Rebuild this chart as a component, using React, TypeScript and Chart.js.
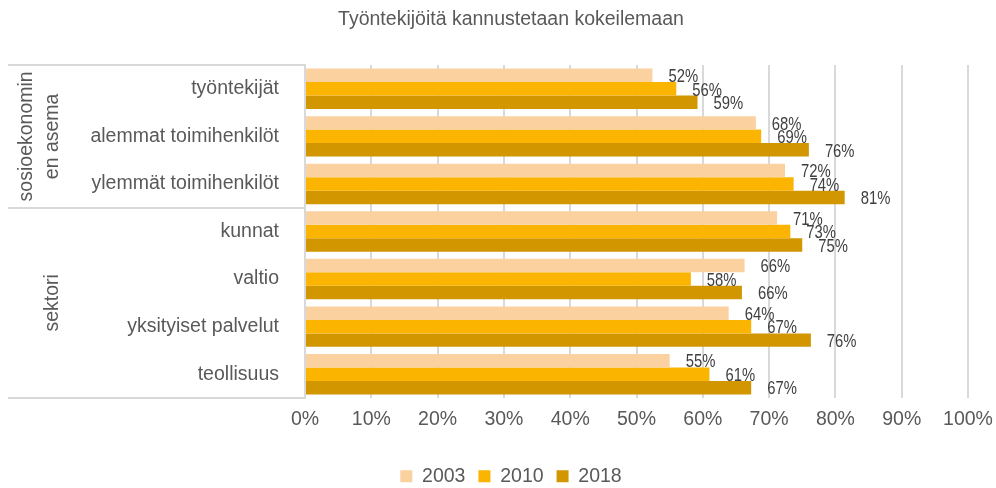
import { useEffect, useRef } from "react";
import { Chart, registerables } from "chart.js";

Chart.register(...registerables);

const chartTitle = "Työntekijöitä kannustetaan kokeilemaan";
const categories = [
  "työntekijät",
  "alemmat toimihenkilöt",
  "ylemmät toimihenkilöt",
  "kunnat",
  "valtio",
  "yksityiset palvelut",
  "teollisuus",
];
const groupLabels = [["sosioekonomin", "en asema"], ["sektori"]];
const groupSizes = [3, 4];
const seriesNames = ["2003", "2010", "2018"];
const values2003 = [52.4, 68.0, 72.4, 71.2, 66.3, 63.9, 55.0];
const values2010 = [56.0, 68.8, 73.7, 73.2, 58.2, 67.3, 61.0];
const values2018 = [59.2, 76.0, 81.4, 75.0, 65.9, 76.3, 67.3];
const xMin = 0;
const xMax = 100;
const xStep = 10;

const seriesColors = ["#FAD19F", "#FBB400", "#D19600"];
const FONT = "'Liberation Sans', Arial, sans-serif";
const TEXT = "#595959";
const GRID = "#d9d9d9";

const LEGEND_SHIFT = 8;

const overlayPlugin = {
  id: "overlay",
  afterLayout(chart: any) {
    const lg = chart.legend;
    if (lg) {
      lg.top += LEGEND_SHIFT;
      lg.bottom += LEGEND_SHIFT;
    }
  },
  afterDatasetsDraw(chart: any) {
    const ctx = chart.ctx;
    ctx.save();
    // data labels
    ctx.font = `19px ${FONT}`;
    ctx.fillStyle = "#404040";
    ctx.textBaseline = "middle";
    ctx.textAlign = "left";
    chart.data.datasets.forEach((ds: any, di: number) => {
      const meta = chart.getDatasetMeta(di);
      meta.data.forEach((bar: any, i: number) => {
        const v = ds.data[i];
        const txt = Math.round(v) + "%";
        ctx.save();
        ctx.translate(bar.x + 16, bar.y + 1.5);
        ctx.scale(0.78, 1);
        ctx.fillText(txt, 0, 0);
        ctx.restore();
      });
    });

    // multi-level category axis: separators and group labels
    const yScale = chart.scales.y;
    ctx.strokeStyle = GRID;
    ctx.lineWidth = 2;
    const lineLeft = 8;
    const lineRight = yScale.right;
    let start = 0;
    const drawSep = (idx: number) => {
      const py = Math.round(yScale.getPixelForValue(idx - 0.5));
      ctx.beginPath();
      ctx.moveTo(lineLeft, py);
      ctx.lineTo(lineRight, py);
      ctx.stroke();
    };
    drawSep(0);
    ctx.font = `19.5px ${FONT}`;
    ctx.fillStyle = TEXT;
    ctx.textAlign = "center";
    ctx.textBaseline = "middle";
    groupSizes.forEach((n, gi) => {
      const end = start + n;
      drawSep(end);
      const top = yScale.getPixelForValue(start - 0.5);
      const bottom = yScale.getPixelForValue(end - 0.5);
      const cy = (top + bottom) / 2;
      const lines = groupLabels[gi];
      const lastX = 53;
      const lineGap = 26;
      lines.forEach((line, li) => {
        const lx = lastX - (lines.length - 1 - li) * lineGap;
        ctx.save();
        ctx.translate(lx, cy);
        ctx.rotate(-Math.PI / 2);
        ctx.fillText(line, 0, 0);
        ctx.restore();
      });
      start = end;
    });
    ctx.restore();
  },
};

export default function App() {
  const canvasRef = useRef<HTMLCanvasElement | null>(null);

  useEffect(() => {
    document.body.style.margin = "0";
    const canvas = canvasRef.current;
    if (!canvas) return;
    const seriesValues = [values2003, values2010, values2018];
    const chart = new Chart(canvas, {
      type: "bar",
      data: {
        labels: categories,
        datasets: seriesNames.map((name, i) => ({
          label: name,
          data: seriesValues[i],
          backgroundColor: seriesColors[i],
          borderWidth: 0,
          categoryPercentage: 0.85,
          barPercentage: 1.0,
        })),
      },
      options: {
        indexAxis: "y",
        responsive: false,
        animation: false,
        layout: { padding: { left: 26, right: 0, top: 0, bottom: 0 } },
        plugins: {
          title: {
            display: true,
            text: chartTitle,
            color: TEXT,
            font: { family: FONT, size: 19.5, weight: "normal" },
            padding: { top: 8, bottom: 33.6 },
          },
          legend: {
            position: "bottom",
            labels: {
              boxWidth: 12,
              boxHeight: 12,
              padding: 13,
              color: TEXT,
              font: { family: FONT, size: 19.5 },
            },
          },
          tooltip: { enabled: false },
        },
        scales: {
          x: {
            min: xMin,
            max: xMax,
            ticks: {
              stepSize: xStep,
              color: TEXT,
              font: { family: FONT, size: 19.5 },
              padding: 10,
              callback: (v: any) => v + "%",
            },
            grid: { color: GRID, lineWidth: 2, drawTicks: false },
            border: { display: false },
            afterFit: (scale: any) => {
              scale.height = 47.5;
              scale.paddingRight = 28;
              scale.paddingLeft = 20;
            },
          },
          y: {
            ticks: {
              color: TEXT,
              font: { family: FONT, size: 19.5 },
              padding: 26,
            },
            grid: { display: false, drawTicks: false },
            border: { display: true, color: GRID, width: 2 },
            afterFit: (scale: any) => {
              scale.width = 279;
            },
          },
        },
      },
      plugins: [overlayPlugin],
    } as any);
    return () => chart.destroy();
  }, []);

  return (
    <div style={{ width: 996, height: 488 }}>
      <canvas ref={canvasRef} width={996} height={488} style={{ display: "block" }} />
    </div>
  );
}
